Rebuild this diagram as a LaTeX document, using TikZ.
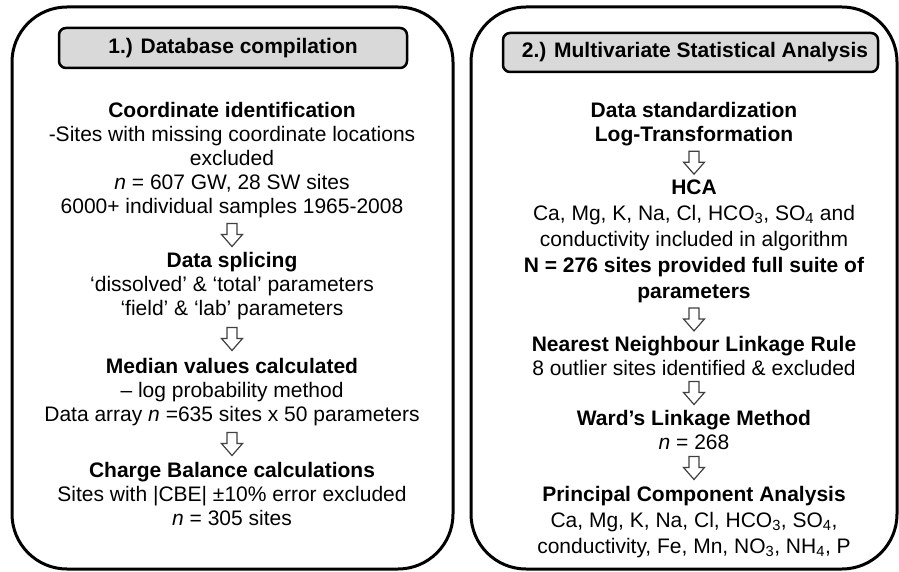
\documentclass[tikz,border=0pt]{standalone}
\usepackage{fontspec}
\setmainfont{Liberation Sans}
\usetikzlibrary{calc}
\definecolor{hdrgray}{HTML}{D9D9D9}
\definecolor{arrgray}{HTML}{404040}
\tikzset{
  panel/.style={draw=black, line width=3pt, rounded corners=55pt, inner sep=0pt},
  header/.style={draw=black, line width=2.5pt, rounded corners=7pt, fill=hdrgray,
    inner sep=0pt, font=\fontsize{21}{24}\selectfont\bfseries},
  block/.style={align=center, inner sep=0pt, font=\fontsize{21}{24}\selectfont},
  blockwide/.style={block, font=\fontsize{21}{26}\selectfont},
  pics/downarrow/.style={code={
    \draw[draw=arrgray, line width=1.2pt, fill=white, line join=miter]
      (-5,-11.5) -- (5,-11.5) -- (5,-0.5) -- (10.5,-0.5) -- (0,11.5)
      -- (-10.5,-0.5) -- (-5,-0.5) -- cycle;}}
}
\begin{document}
\begin{tikzpicture}[x=1pt, y=-1pt]
\useasboundingbox (0,0) rectangle (899,572);
% panels
\node[panel, minimum width=441pt, minimum height=562pt] (p1) at (232.5,288) {};
\node[panel, minimum width=426pt, minimum height=562pt] (p2) at (684,288) {};
% headers
\node[header, minimum width=348pt, minimum height=40pt] (h1) at (233,48) {1.) Database compilation};
\node[header, minimum width=375pt, minimum height=39pt] (h2) at (690.5,52.5) {\hspace*{9pt}2.) Multivariate Statistical Analysis};
% left column
\node[block] (b1) at (232,160) {\textbf{Coordinate identification}\\
-Sites with missing coordinate locations\\
excluded\\
\textit{n} = 607 GW, 28 SW sites\\
6000+ individual samples 1965-2008};
\node[block] (b2) at (232,286) {\textbf{Data splicing}\\
‘dissolved’ \& ‘total’ parameters\\
‘field’ \& ‘lab’ parameters};
\node[block] (b3) at (232,392) {\textbf{Median values calculated}\\
– log probability method\\
Data array \textit{n} =635 sites x 50 parameters};
\node[block] (b4) at (232,494) {\textbf{Charge Balance calculations}\\
Sites with |CBE| ±10\% error excluded\\
\textit{n} = 305 sites};
% right column
\node[block] (r1) at (694,124) {\textbf{Data standardization}\\
\textbf{Log-Transformation}};
\node[blockwide] (r2) at (694,241) {\textbf{HCA}\\
Ca, Mg, K, Na, Cl, HCO\textsubscript{3}, SO\textsubscript{4} and\\
conductivity included in algorithm\\
\textbf{N = 276 sites provided full suite of}\\
\textbf{parameters}};
\node[block] (r3) at (694,356) {\textbf{Nearest Neighbour Linkage Rule}\\
8 outlier sites identified \& excluded};
\node[block] (r4) at (694,430) {\textbf{Ward’s Linkage Method}\\
\textit{n} = 268};
\node[blockwide] (r5) at (694,522) {\textbf{Principal Component Analysis}\\
Ca, Mg, K, Na, Cl, HCO\textsubscript{3}, SO\textsubscript{4},\\
conductivity,\ Fe, Mn, NO\textsubscript{3},\ NH\textsubscript{4}, P};
% block arrows
\path ($(b1.south)!0.5!(b2.north)$) pic {downarrow};
\path ($(b2.south)!0.5!(b3.north)$) pic {downarrow};
\path ($(b3.south)!0.5!(b4.north)$) pic {downarrow};
\path ($(r1.south)!0.5!(r2.north)$) pic {downarrow};
\path ($(r2.south)!0.5!(r3.north)$) pic {downarrow};
\path ($(r3.south)!0.5!(r4.north)$) pic {downarrow};
\path ($(r4.south)!0.5!(r5.north)$) pic {downarrow};
\end{tikzpicture}
\end{document}
